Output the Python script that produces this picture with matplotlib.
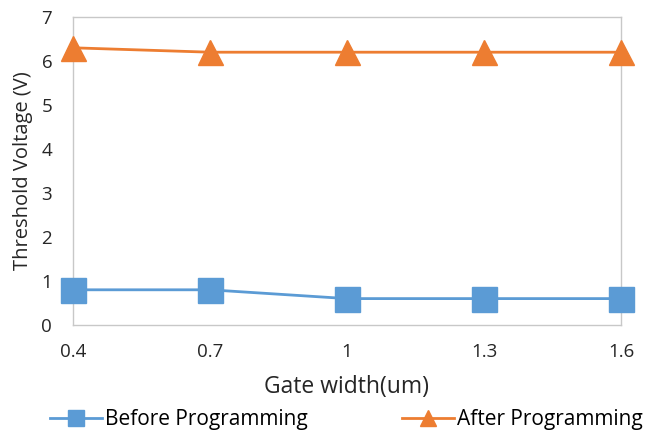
import matplotlib.pyplot as plt

# DATA

gate_width = [0.4, 0.7, 1.0, 1.3, 1.6]
tick_labels = ['0.4', '0.7', '1', '1.3', '1.6']
before_prog = [0.8, 0.8, 0.6, 0.6, 0.6]
after_prog = [6.3, 6.2, 6.2, 6.2, 6.2]

plt.rcParams['font.family'] = ['Open Sans', 'DejaVu Sans']

fig = plt.figure(figsize=(6.51, 4.33), dpi=100)
ax = fig.add_axes([73 / 651, 1 - 325 / 433, (621 - 73) / 651, (325 - 17) / 433])

ax.plot(gate_width, before_prog, color='#5b9bd5', linewidth=2, marker='s',
        markersize=18, label='Before Programming', clip_on=False, zorder=3)
ax.plot(gate_width, after_prog, color='#ed7d31', linewidth=2, marker='^',
        markersize=18, label='After Programming', clip_on=False, zorder=3)

ax.set_xlim(0.4, 1.6)
ax.set_ylim(0, 7)
ax.set_xticks(gate_width)
ax.set_xticklabels(tick_labels)
ax.set_yticks(range(0, 8))

for s in ax.spines.values():
    s.set_color('#c8c8c8')
    s.set_linewidth(1)

ax.tick_params(length=0, labelsize=13.5, pad=15)
ax.tick_params(axis='x', pad=13)
for lab in ax.get_xticklabels() + ax.get_yticklabels():
    lab.set_color('#262626')

ax.set_xlabel('Gate width(um)', fontsize=16.5, color='#262626', labelpad=10)
ax.set_ylabel('Threshold Voltage (V)', fontsize=14.5, color='#262626', labelpad=6)

fig.legend(loc='center left', bbox_to_anchor=(50 / 651, 1 - 420 / 433), ncol=2,
           frameon=False, fontsize=15, columnspacing=4.5, handlelength=2.5,
           handletextpad=0.15, markerscale=0.65, borderpad=0, borderaxespad=0)

fig.savefig('out.png', dpi=100)
